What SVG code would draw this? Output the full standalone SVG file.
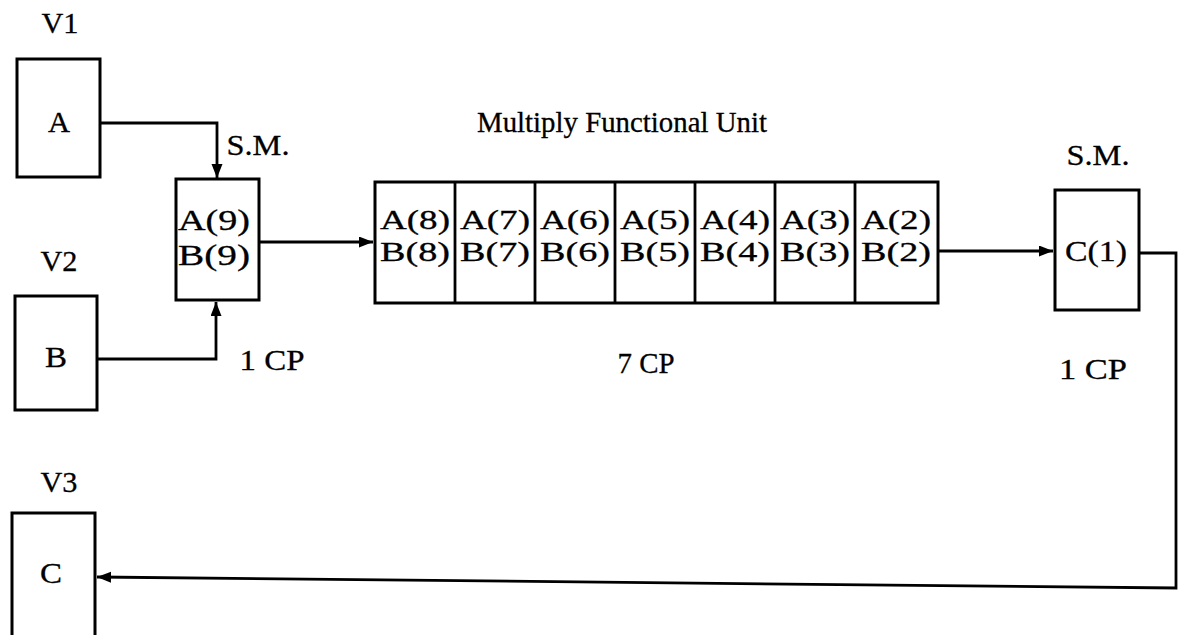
<svg xmlns="http://www.w3.org/2000/svg" width="1180" height="635" viewBox="0 0 1180 635">
<style>
.box{fill:#fff;stroke:#000;stroke-width:3}
.ln{fill:none;stroke:#000;stroke-width:2.8}
text{font-family:"Liberation Serif","Times New Roman",serif;font-size:30px;fill:#000;stroke:#000;stroke-width:0.3;text-anchor:middle}
.cell{font-size:28px}
</style>
<defs>
<marker id="ah" markerUnits="userSpaceOnUse" markerWidth="15" markerHeight="12" refX="14" refY="5.5" orient="auto">
<path d="M0,0 L14,5.5 L0,11 Z" fill="#000"/>
</marker>
</defs>
<rect width="1180" height="635" fill="#fff"/>
<g id="labels">
<text x="60" y="33" textLength="37" lengthAdjust="spacingAndGlyphs">V1</text>
<text x="59" y="271" textLength="37" lengthAdjust="spacingAndGlyphs">V2</text>
<text x="59" y="492" textLength="37" lengthAdjust="spacingAndGlyphs">V3</text>
<text x="258" y="155" textLength="63" lengthAdjust="spacingAndGlyphs">S.M.</text>
<text x="272" y="370" textLength="65" lengthAdjust="spacingAndGlyphs">1 CP</text>
<text x="622" y="132" textLength="290" lengthAdjust="spacingAndGlyphs">Multiply Functional Unit</text>
<text x="646" y="373" textLength="57" lengthAdjust="spacingAndGlyphs">7 CP</text>
<text x="1098" y="165" textLength="63" lengthAdjust="spacingAndGlyphs">S.M.</text>
<text x="1093" y="379" textLength="68" lengthAdjust="spacingAndGlyphs">1 CP</text>
</g>
<g id="connectors">
<path class="ln" d="M100,123 H217 V178" marker-end="url(#ah)"/>
<path class="ln" d="M97,359 H216 V302" marker-end="url(#ah)"/>
<path class="ln" d="M259,242 H373" marker-end="url(#ah)"/>
<path class="ln" d="M938,251 H1053" marker-end="url(#ah)"/>
<path class="ln" d="M1139,253 H1176 V588 L97,577" marker-end="url(#ah)"/>
</g>
<g id="nodeV1">
<rect class="box" x="17" y="59" width="83" height="118"/>
<text x="59" y="132" textLength="22" lengthAdjust="spacingAndGlyphs">A</text>
</g>
<g id="nodeV2">
<rect class="box" x="15" y="296" width="82" height="114"/>
<text x="56" y="367" textLength="22" lengthAdjust="spacingAndGlyphs">B</text>
</g>
<g id="nodeV3">
<rect class="box" x="12" y="513" width="83" height="130"/>
<text x="51" y="583" textLength="22" lengthAdjust="spacingAndGlyphs">C</text>
</g>
<g id="nodeSM1">
<rect class="box" x="176" y="179" width="83" height="121"/>
<text x="214" y="230" textLength="72" lengthAdjust="spacingAndGlyphs">A(9)</text>
<text x="214" y="265" textLength="72" lengthAdjust="spacingAndGlyphs">B(9)</text>
</g>
<g id="pipeline">
<rect class="box" x="375" y="182" width="563" height="121"/>
<g id="stage8"><path class="ln" d="M455,182 V303"/><text class="cell" x="415" y="229" textLength="70" lengthAdjust="spacingAndGlyphs">A(8)</text><text class="cell" x="415" y="261" textLength="70" lengthAdjust="spacingAndGlyphs">B(8)</text></g>
<g id="stage7"><path class="ln" d="M535,182 V303"/><text class="cell" x="495" y="229" textLength="70" lengthAdjust="spacingAndGlyphs">A(7)</text><text class="cell" x="495" y="261" textLength="70" lengthAdjust="spacingAndGlyphs">B(7)</text></g>
<g id="stage6"><path class="ln" d="M615,182 V303"/><text class="cell" x="575" y="229" textLength="70" lengthAdjust="spacingAndGlyphs">A(6)</text><text class="cell" x="575" y="261" textLength="70" lengthAdjust="spacingAndGlyphs">B(6)</text></g>
<g id="stage5"><path class="ln" d="M695,182 V303"/><text class="cell" x="655" y="229" textLength="70" lengthAdjust="spacingAndGlyphs">A(5)</text><text class="cell" x="655" y="261" textLength="70" lengthAdjust="spacingAndGlyphs">B(5)</text></g>
<g id="stage4"><path class="ln" d="M775,182 V303"/><text class="cell" x="735" y="229" textLength="70" lengthAdjust="spacingAndGlyphs">A(4)</text><text class="cell" x="735" y="261" textLength="70" lengthAdjust="spacingAndGlyphs">B(4)</text></g>
<g id="stage3"><path class="ln" d="M855,182 V303"/><text class="cell" x="815" y="229" textLength="70" lengthAdjust="spacingAndGlyphs">A(3)</text><text class="cell" x="815" y="261" textLength="70" lengthAdjust="spacingAndGlyphs">B(3)</text></g>
<g id="stage2"><text class="cell" x="896" y="229" textLength="70" lengthAdjust="spacingAndGlyphs">A(2)</text><text class="cell" x="896" y="261" textLength="70" lengthAdjust="spacingAndGlyphs">B(2)</text></g>
</g>
<g id="nodeSM2">
<rect class="box" x="1055" y="190" width="84" height="120"/>
<text x="1096" y="261" textLength="62" lengthAdjust="spacingAndGlyphs">C(1)</text>
</g>
</svg>
